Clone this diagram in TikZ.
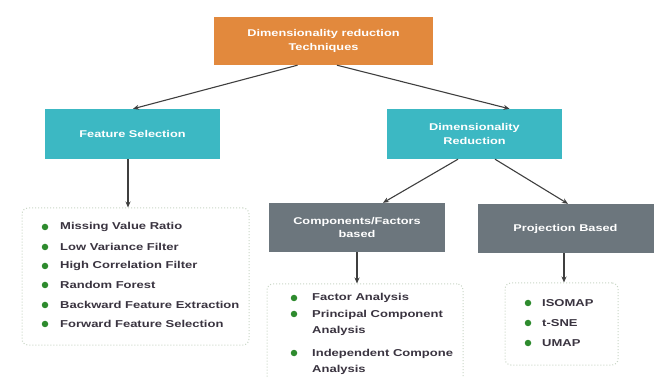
\documentclass[tikz,border=0pt]{standalone}
\usepackage{fontspec}
\setmainfont{Liberation Sans}
\newfontfamily\widefont[FakeStretch=1.3]{Liberation Sans}
\usetikzlibrary{arrows.meta}
\definecolor{orangebox}{HTML}{E2893D}
\definecolor{tealbox}{HTML}{3CB8C3}
\definecolor{graybox}{HTML}{6C767D}
\definecolor{bulletgreen}{HTML}{2E8B2E}
\definecolor{itemtext}{HTML}{3A3440}
\definecolor{listborder}{HTML}{C9D6C6}
\definecolor{arrowgray}{HTML}{3F3F3F}
\tikzset{
  hbox/.style={draw=none, minimum width=#1, inner sep=0pt, align=center, text=white, font=\widefont\fontsize{9.8}{13.5}\selectfont\bfseries},
  listbox/.style={draw=listborder, line width=1pt, dotted, rounded corners=6pt, fill=white},
  blt/.style={circle, fill=bulletgreen, inner sep=0pt, minimum size=6.5pt},
  itm/.style={anchor=west, inner sep=0pt, text=itemtext, font=\widefont\fontsize{10}{15.5}\selectfont\bfseries, align=left},
  conn/.style={draw=arrowgray, line width=1.1pt, -{Stealth[length=6pt,width=5pt]}}
}
\begin{document}
\begin{tikzpicture}[x=1pt,y=-1pt]
\useasboundingbox (0,0) rectangle (657,377);
% header boxes
\node[hbox=219pt, fill=orangebox, minimum height=48pt] (top) at (323.5,41) {Dimensionality reduction\\Techniques};
\node[hbox=175pt, fill=tealbox, minimum height=50pt] (fs) at (132.5,134) {Feature Selection};
\node[hbox=175pt, fill=tealbox, minimum height=50pt] (dr) at (474.5,134) {Dimensionality\\Reduction};
\node[hbox=176pt, fill=graybox, minimum height=49pt] (comp) at (357,227.5) {Components/Factors\\based};
\node[hbox=176pt, fill=graybox, minimum height=49pt] (proj) at (565.5,228.5) {Projection Based};
% list boxes
\node[listbox, minimum width=227pt, minimum height=137pt] (l1) at (135.5,276.5) {};
\node[listbox, minimum width=196pt, minimum height=112pt] (l2) at (365,340) {};
\node[listbox, minimum width=113pt, minimum height=82pt] (l3) at (561.5,324) {};
% connectors
\draw[conn] ([xshift=-26pt]top.south) -- ([xshift=0.5pt]fs.north);
\draw[conn] ([xshift=13.5pt]top.south) -- ([xshift=35pt]dr.north);
\draw[conn] ([xshift=-16.5pt]dr.south) -- ([xshift=26pt]comp.north);
\draw[conn] ([xshift=20.5pt]dr.south) -- ([xshift=2.5pt]proj.north);
\draw[conn] ([xshift=-4.5pt]fs.south) -- ([xshift=-7.5pt]l1.north);
\draw[conn] (comp.south) -- ([xshift=-8pt]l2.north);
\draw[conn] ([xshift=-1.5pt]proj.south) -- ([xshift=2.5pt]l3.north);
% list 1
\node[blt] (b11) at (45,227) {}; \node[itm] (t11) at (60,227) {Missing Value Ratio};
\node[blt] (b12) at (45,247) {}; \node[itm] (t12) at (60,247) {Low Variance Filter};
\node[blt] (b13) at (45,266) {}; \node[itm] (t13) at (60,266) {High Correlation Filter};
\node[blt] (b14) at (45,285) {}; \node[itm] (t14) at (60,285) {Random Forest};
\node[blt] (b15) at (45,305) {}; \node[itm] (t15) at (60,305) {Backward Feature Extraction};
\node[blt] (b16) at (45,324) {}; \node[itm] (t16) at (60,324) {Forward Feature Selection};
% list 2
\node[blt] (b21) at (294,298) {}; \node[itm] (t21) at (312,298) {Factor Analysis};
\node[blt] (b22) at (294,314) {}; \node[itm, anchor=north west] (t22) at (312,310.5) {Principal Component\\Analysis};
\node[blt] (b23) at (294,353) {}; \node[itm, anchor=north west] (t23) at (312,349.5) {Independent Compone\\Analysis};
% list 3
\node[blt] (b31) at (528,303) {}; \node[itm] (t31) at (542,303) {ISOMAP};
\node[blt] (b32) at (528,323) {}; \node[itm] (t32) at (542,323) {t-SNE};
\node[blt] (b33) at (528,343) {}; \node[itm] (t33) at (542,343) {UMAP};
\end{tikzpicture}
\end{document}
